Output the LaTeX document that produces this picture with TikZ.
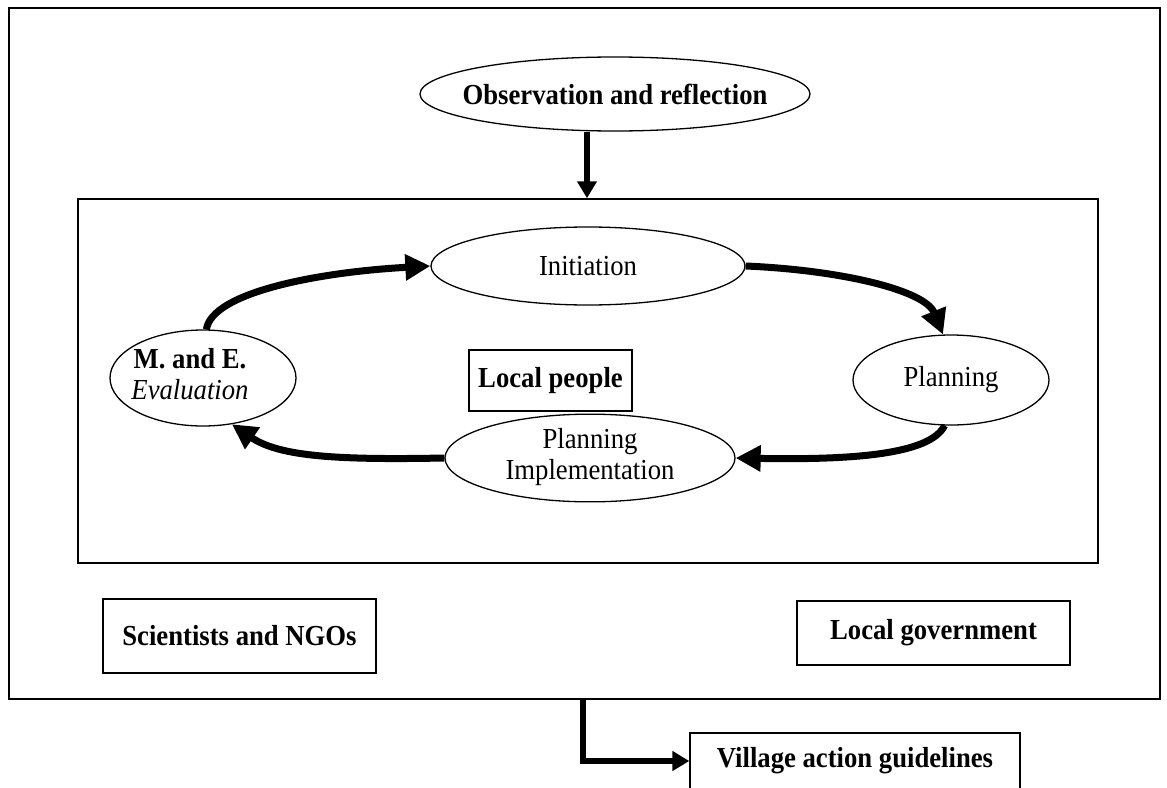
\documentclass[tikz,border=0pt]{standalone}
\usepackage{fontspec}
\setmainfont{Liberation Serif}[FakeStretch=0.92]
\usetikzlibrary{shapes.geometric,arrows.meta}
\newcommand{\twolines}[2]{\makebox[0pt]{\begin{tabular}{@{}c@{}}#1\\#2\end{tabular}}}
\begin{document}
\begin{tikzpicture}[x=1pt,y=-1pt,
  txt/.style={font=\fontsize{29}{31}\selectfont},
  ell/.style={draw,ellipse,line width=1.3pt,inner sep=0pt,txt},
  boxnode/.style={draw,rectangle,line width=1.3pt,inner sep=0pt,txt},
  cyclearrow/.style={line width=7pt,-{Triangle[length=25pt,width=25pt]}},
  straightarrow/.style={line width=5.5pt,-{Triangle[length=17pt,width=19pt]}}]
\useasboundingbox (0,0) rectangle (1167,787);
\clip (0,0) rectangle (1167,787);
\fill[white] (0,0) rectangle (1167,787);

% frames
\node[draw,line width=1.5pt,minimum width=1151pt,minimum height=691pt,inner sep=0pt] (outer) at (584.5,353.5) {};
\node[draw,line width=1.5pt,minimum width=1020pt,minimum height=364pt,inner sep=0pt] (inner) at (588,381) {};

% top ellipse
\node[ell,minimum width=390pt,minimum height=74pt] (obs) at (615,94) {\makebox[0pt]{\bfseries Observation and reflection}};

% cycle
\node[ell,minimum width=314pt,minimum height=78pt] (init) at (588,266) {\makebox[0pt]{Initiation}};
\node[ell,minimum width=196pt,minimum height=90pt] (plan) at (951,380) {\makebox[0pt]{Planning}};
\node[ell,minimum width=290pt,minimum height=84pt] (impl) at (590,458) {\twolines{Planning}{Implementation}};
\node[ell,minimum width=186pt,minimum height=96pt] (me) at (203,378) {};
\node[txt] (metext) at ([xshift=-13pt]me.center) {\twolines{\bfseries M. and E.}{\itshape Evaluation}};
\node[boxnode,minimum width=163pt,minimum height=61pt] (people) at (550.5,380.5) {\bfseries Local people};

% actors
\node[boxnode,minimum width=273pt,minimum height=74pt] (sci) at (239.5,636) {\bfseries Scientists and NGOs};
\node[boxnode,minimum width=273pt,minimum height=64pt] (gov) at (933.5,633) {\bfseries Local government};
\node[boxnode,minimum width=330pt,minimum height=56pt] (guide) at (855,761) {\bfseries Village action guidelines};

% arrows
\coordinate (obsfoot) at (obs.south -| 587,0);
\draw[straightarrow] (obsfoot) -- (obsfoot |- inner.north);
\draw[cyclearrow] (me.86) .. controls (212,292) and (320,272) .. (init.west);
\draw[cyclearrow] (init.east) .. controls (840,270) and (925,290) .. (plan.100);
\draw[cyclearrow] (plan.262) .. controls (930,455) and (850,460) .. (impl.east);
\draw[cyclearrow] (impl.west) .. controls (340,460) and (280,457) .. (me.302);
\coordinate (split) at (583,0);
\coordinate (drop) at (split |- guide.west);
\draw[straightarrow] (split |- outer.south) -- (drop) -- (guide.west);
\end{tikzpicture}
\end{document}
